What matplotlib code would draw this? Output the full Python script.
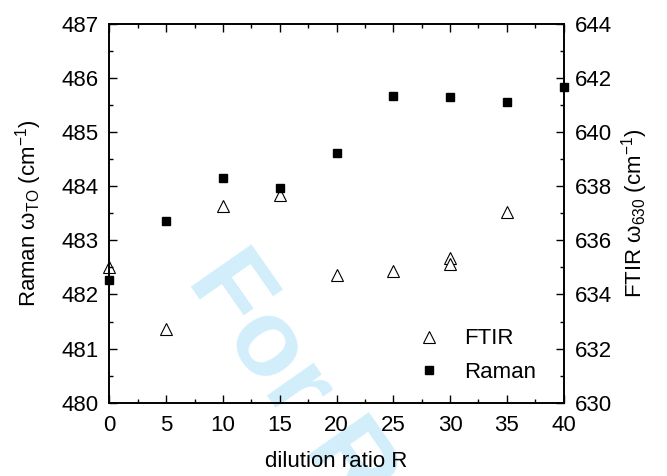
import matplotlib
matplotlib.use('Agg')
import matplotlib.pyplot as plt
from matplotlib.ticker import MultipleLocator

plt.rcParams['font.family'] = ['Liberation Sans', 'DejaVu Sans']
plt.rcParams['mathtext.fontset'] = 'custom'
plt.rcParams['mathtext.rm'] = 'Liberation Sans'

# data
ratio_raman = [0, 5, 10, 15, 20, 25, 30, 35, 40]
raman = [482.27, 483.36, 484.16, 483.97, 484.62, 485.67, 485.64, 485.56, 485.84]

ratio_ftir = [0, 5, 10, 15, 20, 25, 30, 30, 35]
ftir = [635.03, 632.71, 637.25, 637.69, 634.73, 634.88, 635.34, 635.12, 637.04]

fig = plt.figure(figsize=(6.67, 4.76), dpi=100)
ax = fig.add_axes([0.164, 0.154, 0.681, 0.796])
ax2 = ax.twinx()
ax.patch.set_alpha(0)
ax2.patch.set_alpha(0)

# watermark, behind everything
fig.text(0.278, 0.410, 'For Review', rotation=-55, rotation_mode='anchor',
         ha='left', va='baseline', fontsize=78, fontweight='bold',
         color='#d2eefb', zorder=-1)

l2, = ax2.plot(ratio_ftir, ftir, linestyle='none', marker='^', markersize=8,
               markerfacecolor='white', markeredgecolor='black',
               markeredgewidth=0.8, label='FTIR', clip_on=False)
l1, = ax.plot(ratio_raman, raman, linestyle='none', marker='s', markersize=6,
              color='black', label='Raman', clip_on=False)
ax.set_zorder(ax2.get_zorder() + 1)

ax.set_xlim(0, 40)
ax.set_ylim(480, 487)
ax2.set_ylim(630, 644)

ax.xaxis.set_major_locator(MultipleLocator(5))
ax.xaxis.set_minor_locator(MultipleLocator(2.5))
ax.yaxis.set_major_locator(MultipleLocator(1))
ax.yaxis.set_minor_locator(MultipleLocator(0.5))
ax2.yaxis.set_major_locator(MultipleLocator(2))
ax2.yaxis.set_minor_locator(MultipleLocator(1))

ax.tick_params(which='both', direction='in', top=True, right=False, labelsize=16)
ax.tick_params(axis='x', pad=9)
ax.tick_params(axis='y', pad=8)
ax.tick_params(which='major', length=6, width=1)
ax.tick_params(which='minor', length=3, width=1)
ax2.tick_params(which='both', direction='in', labelsize=16, pad=8)
ax2.tick_params(which='major', length=6, width=1)
ax2.tick_params(which='minor', length=3, width=1)

for a in (ax, ax2):
    for s in a.spines.values():
        s.set_linewidth(1.2)

ax.set_xlabel('dilution ratio R', fontsize=16, labelpad=11)
ax.set_ylabel('Raman ω$_{\\mathrm{TO}}$ (cm$^{-1}$)', fontsize=16, labelpad=12)
ax2.set_ylabel('FTIR ω$_{630}$ (cm$^{-1}$)', fontsize=16, labelpad=5)

ax.legend([l2, l1], ['FTIR', 'Raman'], loc='lower left',
          bbox_to_anchor=(0.62, 0.0), frameon=False, fontsize=16,
          handletextpad=0.8, labelspacing=0.55, handlelength=1.6)

fig.savefig('out.png', dpi=100)
